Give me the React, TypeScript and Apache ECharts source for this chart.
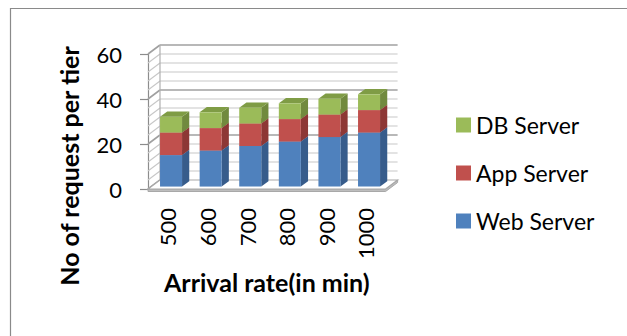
import React, { useEffect, useRef } from 'react';
import * as echarts from 'echarts';

// Arrival rates on the category axis
const categories = ['500', '600', '700', '800', '900', '1000'];
// Requests handled by each tier, stacked bottom to top
const webServer = [14, 16, 18, 20, 22, 24];
const appServer = [10, 10, 10, 10, 10, 10];
const dbServer = [7, 7, 7, 7, 7, 7];
// Value axis range and gridline steps
const yMin = 0;
const yMax = 60;
const yStep = 20;
const minorStep = 4;

const FONT = 'Lato, "Liberation Sans", sans-serif';

const tiers = [
  { name: 'Web Server', values: webServer, front: '#4F81BD', side: '#375C8B', top: '#4472AA' },
  { name: 'App Server', values: appServer, front: '#C0504D', side: '#8D3735', top: '#A64340' },
  { name: 'DB Server', values: dbServer, front: '#9BBB59', side: '#718A3E', top: '#7F9C45' },
];

// oblique depth of the 3D box, as a share of one category band
const DEPTH = 0.303;
const SLOPE = 0.75;
// bars sit inside the box between these depth fractions
const BAR_FRONT = 0.27;
const BAR_BACK = 0.87;
const BAR_WIDTH = 0.556;

function renderWalls(params: any, api: any) {
  if (params.dataIndex !== 0) return null;
  const bw = api.size([1, 0])[0];
  const x0 = api.coord([0, yMin])[0] - bw / 2;
  const x1 = x0 + bw * categories.length;
  const dx = bw * DEPTH;
  const dy = -dx * SLOPE;
  const y0 = api.coord([0, yMin])[1];
  const yTop = api.coord([0, yMax])[1];
  const children: any[] = [];

  for (let v = yMin; v <= yMax; v += minorStep) {
    const y = api.coord([0, v])[1];
    const major = v % yStep === 0;
    const stroke = major ? '#a0a0a0' : '#c8c8c8';
    const lw = major ? 1.6 : 1.2;
    if (v > yMin) {
      children.push({
        type: 'line',
        shape: { x1: x0 + dx, y1: y + dy, x2: x1 + dx, y2: y + dy },
        style: { stroke, lineWidth: lw },
      });
    }
    children.push({
      type: 'line',
      shape: { x1: x0, y1: y, x2: x0 + dx, y2: y + dy },
      style: { stroke, lineWidth: lw },
    });
  }
  // back edge of the side wall
  children.push({
    type: 'line',
    shape: { x1: x0 + dx, y1: y0 + dy, x2: x0 + dx, y2: yTop + dy },
    style: { stroke: '#b0b0b0', lineWidth: 1.2 },
  });
  // floor slab: front and right faces, then the top
  const t = 2.5;
  children.push({
    type: 'polygon',
    shape: { points: [[x0, y0], [x1, y0], [x1 + dx, y0 + dy], [x1 + dx, y0 + dy + t], [x1, y0 + t], [x0, y0 + t]] },
    style: { fill: '#bdbdbd', stroke: '#a8a8a8', lineWidth: 1 },
  });
  children.push({
    type: 'polygon',
    shape: { points: [[x0, y0], [x1, y0], [x1 + dx, y0 + dy], [x0 + dx, y0 + dy]] },
    style: { fill: '#ffffff', stroke: '#a8a8a8', lineWidth: 1.2 },
  });
  return { type: 'group', children };
}

function makeBarRenderer(front: string, side: string, top: string) {
  return (params: any, api: any) => {
    const bw = api.size([1, 0])[0];
    const base = api.coord([api.value(0), api.value(1)]);
    const end = api.coord([api.value(0), api.value(2)]);
    const dx = bw * DEPTH;
    const dy = -dx * SLOPE;
    const w = bw * BAR_WIDTH;
    const x = base[0] - w / 2 + dx * BAR_FRONT;
    const yBot = base[1] + dy * BAR_FRONT;
    const yTop = end[1] + dy * BAR_FRONT;
    const ddx = dx * (BAR_BACK - BAR_FRONT);
    const ddy = dy * (BAR_BACK - BAR_FRONT);
    return {
      type: 'group',
      children: [
        {
          type: 'polygon',
          shape: { points: [[x + w, yTop], [x + w + ddx, yTop + ddy], [x + w + ddx, yBot + ddy], [x + w, yBot]] },
          style: { fill: side },
        },
        {
          type: 'polygon',
          shape: { points: [[x, yTop], [x + ddx, yTop + ddy], [x + w + ddx, yTop + ddy], [x + w, yTop]] },
          style: { fill: top },
        },
        {
          type: 'rect',
          shape: { x, y: yTop, width: w, height: yBot - yTop },
          style: { fill: front },
        },
      ],
    };
  };
}

export default function App() {
  const ref = useRef<HTMLDivElement>(null);

  useEffect(() => {
    if (!ref.current) return;
    const chart = echarts.init(ref.current, null, { renderer: 'svg' });

    const bases = categories.map(() => 0);
    const barSeries = tiers.map((tier, k) => {
      const data = categories.map((_, i) => {
        const start = bases[i];
        const stop = start + tier.values[i];
        bases[i] = stop;
        return [i, start, stop];
      });
      return {
        type: 'custom',
        name: tier.name,
        coordinateSystem: 'cartesian2d',
        renderItem: makeBarRenderer(tier.front, tier.side, tier.top),
        encode: { x: 0, y: [1, 2] },
        itemStyle: { color: tier.front },
        data,
        z: 3 + k,
        silent: true,
      };
    });

    chart.setOption({
      animation: false,
      backgroundColor: '#ffffff',
      textStyle: { fontFamily: FONT },
      grid: { left: 148, top: 54, width: 237.6, height: 135 },
      xAxis: {
        type: 'category',
        data: categories,
        axisLine: { show: false },
        axisTick: { show: false },
        axisLabel: { rotate: 90, margin: 19, fontSize: 22, color: '#000', fontFamily: FONT },
        name: 'Arrival rate(in min)',
        nameLocation: 'middle',
        nameGap: 80,
        nameTextStyle: { fontSize: 25, fontWeight: 'bold', color: '#000', fontFamily: FONT },
      },
      yAxis: {
        type: 'value',
        min: yMin,
        max: yMax,
        interval: yStep,
        axisLine: { show: true, lineStyle: { color: '#8c8c8c', width: 1.2 } },
        axisTick: { show: true, length: 8, lineStyle: { color: '#8c8c8c', width: 1.2 } },
        axisLabel: { margin: 26, fontSize: 22, color: '#000', fontFamily: FONT },
        splitLine: { show: false },
      },
      legend: {
        orient: 'vertical',
        left: 456,
        top: 113,
        padding: 0,
        itemWidth: 15,
        itemHeight: 15,
        itemGap: 24,
        icon: 'rect',
        data: ['DB Server', 'App Server', 'Web Server'],
        textStyle: { fontSize: 23, lineHeight: 24, color: '#000', fontFamily: FONT },
        selectedMode: false,
      },
      graphic: [
        {
          type: 'rect',
          shape: { x: 10.5, y: 8.5, width: 700, height: 400 },
          style: { fill: 'none', stroke: '#8a8a8a', lineWidth: 1.2 },
          silent: true,
          z: -1,
        },
        {
          type: 'text',
          x: 69,
          y: 166,
          rotation: Math.PI / 2,
          style: {
            text: 'No of request per tier',
            fontSize: 25,
            fontWeight: 'bold',
            fontFamily: FONT,
            fill: '#000',
            align: 'center',
            verticalAlign: 'middle',
          },
          silent: true,
        },
      ],
      series: [
        {
          type: 'custom',
          name: 'walls',
          coordinateSystem: 'cartesian2d',
          renderItem: renderWalls,
          encode: { x: 0, y: 1 },
          data: [[0, 0]],
          z: 1,
          silent: true,
        },
        ...barSeries,
      ],
    });

    return () => chart.dispose();
  }, []);

  return (
    <div
      ref={ref}
      style={{ position: 'absolute', left: 0, top: 0, width: 627, height: 336, background: '#fff' }}
    />
  );
}
